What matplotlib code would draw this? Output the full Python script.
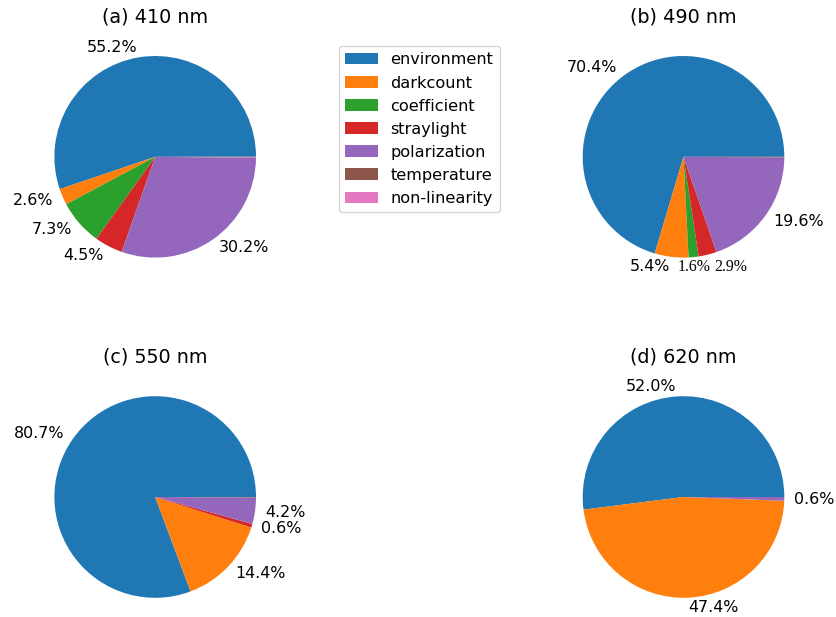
import matplotlib
matplotlib.use("Agg")
import matplotlib.pyplot as plt

components = ["environment", "darkcount", "coefficient", "straylight",
              "polarization", "temperature", "non-linearity"]
titles = ["(a) 410 nm", "(b) 490 nm", "(c) 550 nm", "(d) 620 nm"]

share_410 = [55.2, 2.6, 7.3, 4.5, 30.2, 0.1, 0.1]
share_490 = [70.4, 5.4, 1.6, 2.9, 19.6, 0.1, 0.0]
share_550 = [80.7, 14.4, 0.0, 0.6, 4.2, 0.1, 0.0]
share_620 = [52.0, 47.4, 0.0, 0.0, 0.6, 0.0, 0.0]

# which slices get a printed percentage
shown_410 = [True, True, True, True, True, False, False]
shown_490 = [True, True, False, False, True, False, False]
shown_550 = [True, True, False, True, True, False, False]
shown_620 = [True, True, False, False, True, False, False]

# small slices of (b) were labelled by hand in a serif font: (slice index, x offset)
extra_490 = [(2, 0.104), (3, 0.467)]

colors = ["#1f77b4", "#ff7f0e", "#2ca02c", "#d62728",
          "#9467bd", "#8c564b", "#e377c2"]

W, H = 836, 617
R = 100.8
centers = [(155.2, 156.8), (683.5, 156.8), (155.2, 497.0), (683.5, 497.0)]

fig = plt.figure(figsize=(W / 100, H / 100), dpi=100)

data = [share_410, share_490, share_550, share_620]
shown = [shown_410, shown_490, shown_550, shown_620]

wedges0 = None
for i in range(4):
    cx, cy = centers[i]
    side = 2.5 * R
    ax = fig.add_axes([(cx - side / 2) / W, (H - cy - side / 2) / H, side / W, side / H])
    labels = [f"{v:.1f}%" if s else "" for v, s in zip(data[i], shown[i])]
    wedges, texts = ax.pie(data[i], labels=labels, colors=colors,
                           textprops=dict(fontsize=11.4))
    ax.set_xlim(-1.25, 1.25)
    ax.set_ylim(-1.25, 1.25)
    ax.set_aspect("equal")
    ax.set_title(titles[i], fontsize=13.8)
    if i == 1:
        for k, xo in extra_490:
            ax.text(xo, -1.091, f"{data[i][k]:.1f}%", ha="center", va="center",
                    fontsize=11.4, family="Liberation Serif")
    if i == 0:
        wedges0 = wedges

fig.legend(wedges0, components, loc="upper left", bbox_to_anchor=(339 / W, 1 - 46 / H),
           borderaxespad=0, fontsize=11.6)

fig.savefig("out.png", dpi=100)
